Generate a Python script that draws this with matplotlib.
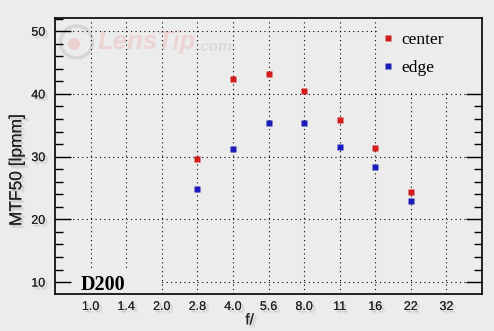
import matplotlib
matplotlib.use('Agg')
import matplotlib.pyplot as plt
import matplotlib.patheffects as pe
from matplotlib.patches import Circle, Rectangle
from matplotlib.ticker import MultipleLocator

# aperture scale shown on the x axis
f_labels = ['1.0', '1.4', '2.0', '2.8', '4.0', '5.6', '8.0', '11', '16', '22', '32']
# apertures that were measured
measured = ['2.8', '4.0', '5.6', '8.0', '11', '16', '22']
# MTF50 values [lpmm]
center = [29.7, 42.3, 43.1, 40.5, 35.9, 31.3, 24.4]
edge = [24.9, 31.2, 35.4, 35.4, 31.6, 28.3, 23.0]

bg = '#ececec'
red = '#d21c1c'
blue = '#1c1cb8'

# soft grey drop shadow like the original
shadow = [pe.withSimplePatchShadow(offset=(1.5, -1.5), shadow_rgbFace='#808080', alpha=0.25),
          pe.withSimplePatchShadow(offset=(2.5, -2.5), shadow_rgbFace='#808080', alpha=0.15)]

fig = plt.figure(figsize=(4.94, 3.31), dpi=100, facecolor=bg)
ax = fig.add_axes([55 / 494, 37 / 331, 427 / 494, 276 / 331], facecolor=bg)

xs = [f_labels.index(f) for f in measured]
ax.plot(xs, center, ls='none', marker='s', ms=4.3, mec='none', color=red, label='center', zorder=4)
ax.plot(xs, edge, ls='none', marker='s', ms=4.3, mec='none', color=blue, label='edge', zorder=4)

ax.set_xlim(-1, 11)
ax.set_ylim(8.1, 52.1)
ax.set_xticks(range(len(f_labels)))
ax.set_xticklabels(f_labels)
ax.yaxis.set_major_locator(MultipleLocator(10))
ax.yaxis.set_minor_locator(MultipleLocator(2))

ax.tick_params(axis='x', length=0, pad=5, labelsize=9)
ax.tick_params(axis='y', which='major', direction='in', length=11.5, width=1,
               left=True, right=True, labelsize=9, pad=7)
ax.tick_params(axis='y', which='minor', direction='in', length=5.8, width=1,
               left=True, right=True)
for lab in ax.get_xticklabels() + ax.get_yticklabels():
    lab.set_fontfamily('Liberation Sans')
    lab.set_color('#202020')
    lab.set_path_effects(shadow)

ax.grid(True, which='major', color='black', lw=0.8, ls=(0, (1, 3)))
for s in ax.spines.values():
    s.set_linewidth(1.2)
    s.set_color('black')

ax.set_ylabel('MTF50 [lpmm]', fontsize=12.5, family='Liberation Sans', color='#202020',
              path_effects=shadow)
ax.yaxis.set_label_coords(-0.072, 0.449)
ax.set_xlabel('f/', fontsize=11, family='Liberation Sans', color='#202020', path_effects=shadow)
ax.xaxis.set_label_coords(0.456, -0.07)

# watermark
ax.add_patch(Circle((0.765, 2.89), 0.16, transform=fig.dpi_scale_trans, fill=False,
                    ec='#d6d6d6', lw=2.5, zorder=1))
ax.add_patch(Circle((0.74, 2.87), 0.06, transform=fig.dpi_scale_trans,
                    fc='#ecd0d0', ec='none', zorder=1))
ax.text(0.98, 2.89, 'LensTip', transform=fig.dpi_scale_trans, fontsize=18.5, fontweight='bold',
        style='italic', color='#ecd4d4', va='center', family='Liberation Sans', zorder=1)
ax.text(1.97, 2.84, '.com', transform=fig.dpi_scale_trans, fontsize=11, fontweight='bold',
        style='italic', color='#dadada', va='center', family='Liberation Sans', zorder=1)

# camera name, on a patch that hides the grid
ax.add_patch(Rectangle((0.042, 0), 0.204, 0.087, transform=ax.transAxes, fc=bg, ec='none', zorder=2.5))
ax.text(0.061, 0.016, 'D200', transform=ax.transAxes, fontsize=14.5, fontweight='bold',
        family='Liberation Serif', color='black', zorder=3)

# legend sits on a plain patch that hides the grid
ax.add_patch(Rectangle((0.757, 0.738), 0.243, 0.262, transform=ax.transAxes, fc=bg, ec='none', zorder=2.5))
leg = ax.legend(loc='upper left', bbox_to_anchor=(0.736, 1.0), borderaxespad=0, borderpad=0.78,
                frameon=False, handlelength=0.6, handletextpad=0.47, labelspacing=0.72,
                prop={'family': 'Liberation Serif', 'size': 12.5})
leg.set_zorder(3)

fig.savefig('out.png', dpi=100, facecolor=bg)
